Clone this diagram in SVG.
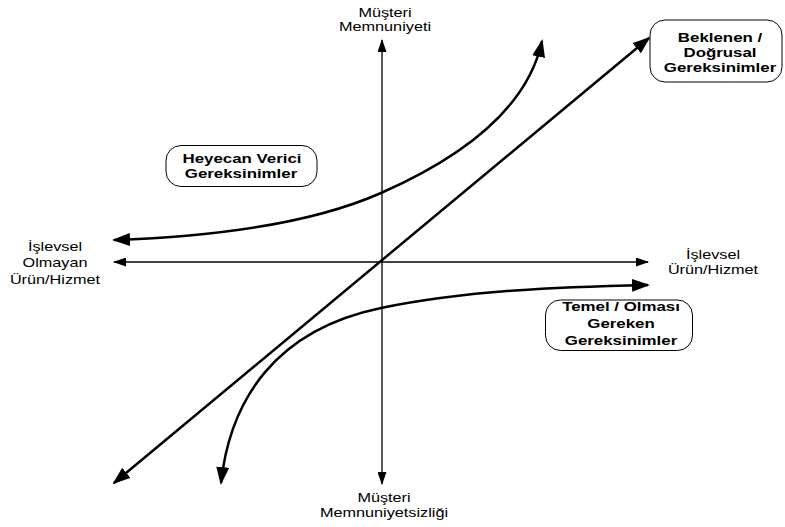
<svg xmlns="http://www.w3.org/2000/svg" width="785" height="527" viewBox="0 0 785 527">
<style>
.lbl{font-family:"Liberation Sans",Arial,sans-serif;font-size:13px;fill:#000;text-anchor:middle}
.bl{font-family:"Liberation Sans",Arial,sans-serif;font-size:13.5px;font-weight:bold;fill:#000;text-anchor:middle}
.box{fill:#fff;stroke:#000;stroke-width:1}
.ax{fill:none;stroke:#000;stroke-width:1.3}
.thick{fill:none;stroke:#000;stroke-width:2.5}
</style>
<defs>
<marker id="ah" viewBox="0 0 18 13" refX="16" refY="6.5" markerWidth="18" markerHeight="13" markerUnits="userSpaceOnUse" orient="auto-start-reverse"><path d="M0,0 L18,6.5 L0,13 z" fill="#000"/></marker>
<marker id="as" viewBox="0 0 13 9" refX="12" refY="4.5" markerWidth="13" markerHeight="9" markerUnits="userSpaceOnUse" orient="auto-start-reverse"><path d="M0,0 L13,4.5 L0,9 z" fill="#000"/></marker>
</defs>
<g id="connectors">
<path class="ax" d="M382,40 L382,484" marker-start="url(#as)" marker-end="url(#as)"/>
<path class="ax" d="M114,262 L648,262" marker-start="url(#as)" marker-end="url(#as)"/>
<path class="thick" d="M114,483 L649,38" marker-start="url(#ah)" marker-end="url(#ah)"/>
<path class="thick" d="M114,240 C230,236 320,220 381,193 C440,167 525,120 542,41" marker-start="url(#ah)" marker-end="url(#ah)"/>
<path class="thick" d="M221,483 C230,400 275,330 381,308 C470,290 560,287 648,285" marker-start="url(#ah)" marker-end="url(#ah)"/>
</g>
<g id="label-top">
<text class="lbl" transform="translate(385,16.5) scale(1.25,1)">Müşteri</text>
<text class="lbl" transform="translate(385,31) scale(1.25,1)">Memnuniyeti</text>
</g>
<g id="label-bottom">
<text class="lbl" transform="translate(384,502) scale(1.25,1)">Müşteri</text>
<text class="lbl" transform="translate(384,516.5) scale(1.25,1)">Memnuniyetsizliği</text>
</g>
<g id="label-left">
<text class="lbl" transform="translate(55,250.5) scale(1.25,1)">İşlevsel</text>
<text class="lbl" transform="translate(55,267) scale(1.25,1)">Olmayan</text>
<text class="lbl" transform="translate(55,283.5) scale(1.25,1)">Ürün/Hizmet</text>
</g>
<g id="label-right">
<text class="lbl" transform="translate(713,258.5) scale(1.25,1)">İşlevsel</text>
<text class="lbl" transform="translate(713,273.5) scale(1.25,1)">Ürün/Hizmet</text>
</g>
<g id="node-heyecan">
<rect class="box" x="166" y="145.5" width="151" height="41" rx="15" ry="15"/>
<text class="bl" transform="translate(242,162.5) scale(1.25,1)">Heyecan Verici</text>
<text class="bl" transform="translate(241,178) scale(1.25,1)">Gereksinimler</text>
</g>
<g id="node-beklenen">
<rect class="box" x="650" y="20" width="132" height="62" rx="15" ry="15"/>
<text class="bl" transform="translate(720,42) scale(1.25,1)">Beklenen /</text>
<text class="bl" transform="translate(720,57) scale(1.25,1)">Doğrusal</text>
<text class="bl" transform="translate(720,72) scale(1.25,1)">Gereksinimler</text>
</g>
<g id="node-temel">
<rect class="box" x="545.5" y="300" width="147" height="50.5" rx="15" ry="15"/>
<text class="bl" transform="translate(621,311) scale(1.25,1)">Temel / Olması</text>
<text class="bl" transform="translate(621,328) scale(1.25,1)">Gereken</text>
<text class="bl" transform="translate(621,345) scale(1.25,1)">Gereksinimler</text>
</g>
</svg>
